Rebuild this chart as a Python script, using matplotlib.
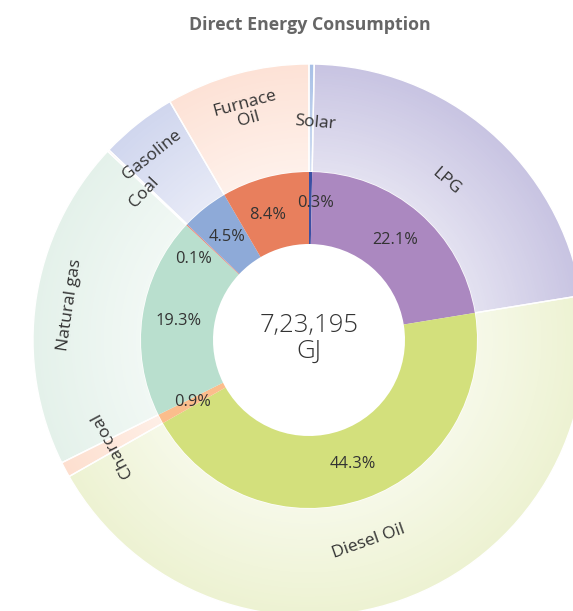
import numpy as np
import matplotlib
matplotlib.use("Agg")
import matplotlib.pyplot as plt
from matplotlib.colors import to_rgb

# energy sources, clockwise from 12 o'clock
sources = ["Solar", "LPG", "Diesel Oil", "Charcoal", "Natural gas", "Coal", "Gasoline", "Furnace\nOil"]
shares = [0.3, 22.1, 44.3, 0.9, 19.3, 0.1, 4.5, 8.4]
inner_colors = ["#3b50a3", "#ab88c0", "#d3e07c", "#fbbd8c", "#b9dfce", "#ee7b6c", "#8eaad8", "#e87f5d"]
outer_colors = ["#a8c0e6", "#c8c4e2", "#edf2d2", "#fddfcf", "#e4f1ea", "#f9d3cc", "#d0d6ee", "#fde2d6"]
total_gj = "7,23,195"

plt.rcParams['font.family'] = ['Open Sans', 'DejaVu Sans']

fig = plt.figure(figsize=(5.73, 6.11), dpi=100)
ax = fig.add_axes([0, 0, 1, 1])
ax.axis("off")

cx, cy = 309, 271
r_hole, r_mid, r_out = 96, 168, 276

# outer ring: radial fade from pale at the inside to full colour at the rim
steps = 40
for k in range(steps):
    r = r_out - (r_out - r_mid) * k / steps
    t = (r - r_mid) / (r_out - r_mid)
    mix = 0.5 * (1 - t)
    cols = [tuple(c * (1 - mix) + mix for c in to_rgb(oc)) for oc in outer_colors]
    ax.pie(shares, radius=r, center=(cx, cy), startangle=90, counterclock=False,
           colors=cols, wedgeprops=dict(width=r - r_mid, linewidth=0))
ax.pie(shares, radius=r_out, center=(cx, cy), startangle=90, counterclock=False,
       colors=["none"] * len(shares),
       wedgeprops=dict(width=r_out - r_mid, linewidth=1.0, edgecolor="white"))

# inner ring
ax.pie(shares, radius=r_mid, center=(cx, cy), startangle=90, counterclock=False,
       colors=inner_colors, wedgeprops=dict(width=r_mid - r_hole, linewidth=0))

ax.set_xlim(0, 573)
ax.set_ylim(0, 611)
ax.set_aspect("equal")

cum = np.cumsum([0] + shares[:-1])
mids = cum + np.array(shares) / 2
total = sum(shares)

pct_r = {"Solar": 137, "Coal": 141}
pct_shift = {"Solar": -2, "Coal": 8.5, "Furnace\nOil": 3}
name_r = {"Solar": 217, "LPG": 210, "Diesel Oil": 210, "Charcoal": 223,
          "Natural gas": 242, "Coal": 221, "Gasoline": 243, "Furnace\nOil": 237}
name_shift = {"Solar": -1, "Coal": 1.4, "Gasoline": 2, "Diesel Oil": -3}

for name, v, m in zip(sources, shares, mids):
    ang = 90 - 360 * m / total
    ang = (ang + 180) % 360 - 180
    a = np.deg2rad(ang + pct_shift.get(name, 0))
    r = pct_r.get(name, 132)
    ax.text(cx + r * np.cos(a), cy + r * np.sin(a), f"{v}%", ha="center", va="center",
            fontsize=11.8, color="#333333")

    # labels follow the ring, flipped only when they would read upside down on the bottom
    a2 = np.deg2rad(ang + name_shift.get(name, 0))
    rot = (ang - 90 + 180) % 360 - 180
    if rot < -90:
        rot += 180
    if name == "Solar":
        rot = -5
    rr = name_r[name]
    ax.text(cx + rr * np.cos(a2), cy + rr * np.sin(a2), name,
            ha="center", va="center", rotation=rot, rotation_mode="anchor",
            fontsize=12.5, color="#333333", linespacing=1.0)

ax.text(cx, cy + 2, total_gj + "\nGJ", ha="center", va="center", fontsize=18.5,
        color="#333333", linespacing=1.05, fontweight="light")

ax.text(310, 586, "Direct Energy Consumption", ha="center", va="center",
        fontsize=12.8, fontweight="bold", color="#666666")

fig.savefig("out.png", dpi=100)
